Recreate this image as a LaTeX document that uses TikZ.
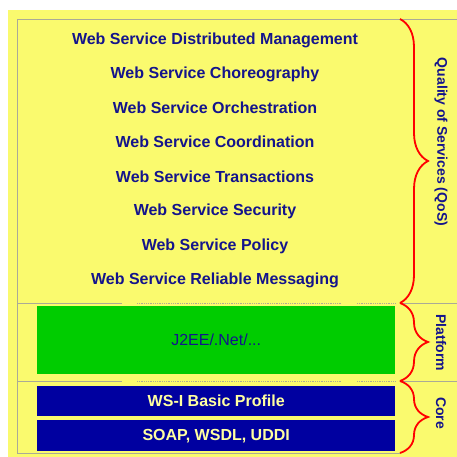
\documentclass[tikz,border=0pt]{standalone}
\usepackage{fontspec}
\setmainfont{Liberation Sans}
\usepackage{tikz}
\usetikzlibrary{shapes,decorations.pathreplacing}

\definecolor{wsyellow}{RGB}{250,250,110}
\definecolor{wsgreen}{RGB}{0,204,0}
\definecolor{wsblue}{RGB}{0,0,160}
\definecolor{wsnavy}{RGB}{20,20,140}
\definecolor{wscream}{RGB}{255,255,160}
\definecolor{wsgray}{RGB}{170,170,150}

\tikzset{
  layer/.style={font=\bfseries\fontsize{16}{18}\selectfont, text=wsnavy},
  stackbox/.style={rectangle, minimum width=358pt, anchor=north west, inner sep=0pt},
  side/.style={rotate=-90, font=\bfseries\fontsize{14}{16}\selectfont, text=wsnavy},
  curly/.style={draw=red, line width=1.8pt,
    decorate, decoration={brace, amplitude=28pt}}
}

\begin{document}
\begin{tikzpicture}[x=1pt, y=-1pt]
  \newcommand{\colx}{215}
  \newcommand{\brx}{400}

  \useasboundingbox (0,0) rectangle (457,457);
  \fill[wsyellow] (8,10) rectangle (457,457);

  % frame and separators
  \draw[wsgray, thick] (457,19) -- (17,19) -- (17,453) -- (\brx,453);
  \draw[wsgray, thick] (17,303) -- (122,303);
  \draw[wsgray, thick] (17,381) -- (122,381);
  \draw[wsgray, thick] (\brx,303) -- (457,303);
  \draw[wsgray, thick] (\brx,381) -- (457,381);
  \draw[wsgray, thick, densely dotted] (137,303) -- (342,303) (357,303) -- (395,303);
  \draw[wsgray, thick, densely dotted] (137,381) -- (342,381) (357,381) -- (395,381);

  % quality of service layers
  \node[layer] (mgmt)  at (\colx,40)  {Web Service Distributed Management};
  \node[layer] (chor)  at (\colx,74)  {Web Service Choreography};
  \node[layer] (orch)  at (\colx,108) {Web Service Orchestration};
  \node[layer] (coord) at (\colx,142) {Web Service Coordination};
  \node[layer] (trans) at (\colx,177) {Web Service Transactions};
  \node[layer] (sec)   at (\colx,211) {Web Service Security};
  \node[layer] (pol)   at (\colx,246) {Web Service Policy};
  \node[layer] (rel)   at (\colx,280) {Web Service Reliable Messaging};

  % platform and core boxes
  \node[stackbox, fill=wsgreen, minimum height=68pt,
    text=wsnavy, font=\fontsize{16}{18}\selectfont] (plat) at (37,306) {J2EE/.Net/...};
  \node[stackbox, fill=wsblue, minimum height=30pt,
    text=wscream, font=\bfseries\fontsize{16}{18}\selectfont] (wsi) at (37,386) {WS-I Basic Profile};
  \node[stackbox, fill=wsblue, minimum height=31pt,
    text=wscream, font=\bfseries\fontsize{16}{18}\selectfont] (soap) at (37,420) {SOAP, WSDL, UDDI};

  % braces on the right
  \draw[curly] (\brx,19) -- (\brx,303);
  \draw[curly] (\brx,303) -- (\brx,381);
  \draw[curly] (\brx,381) -- (\brx,453);

  \node[side] (qos)  at (441,142) {Quality of Services (QoS)};
  \node[side] (pform) at (441,343) {Platform};
  \node[side] (core) at (441,413) {Core};
\end{tikzpicture}
\end{document}
